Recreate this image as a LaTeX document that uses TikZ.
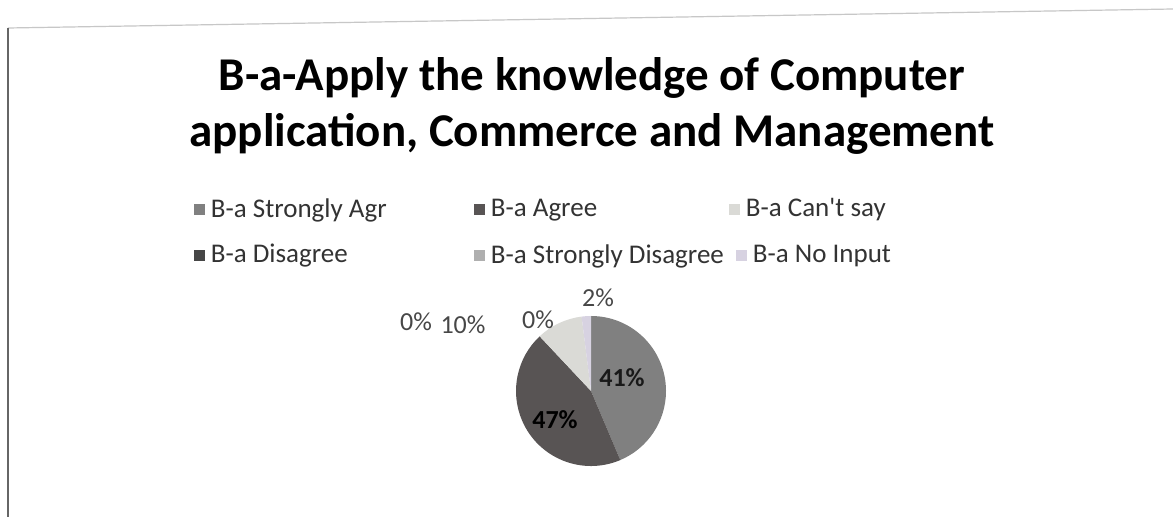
\documentclass[tikz,border=0pt]{standalone}
\usepackage{fontspec}
\setmainfont{Carlito}[Ligatures=TeXOff]
\usetikzlibrary{positioning}

\definecolor{sagrc}{RGB}{128,128,128}
\definecolor{agrc}{RGB}{88,84,84}
\definecolor{cantc}{RGB}{218,218,214}
\definecolor{disc}{RGB}{70,70,70}
\definecolor{sdisc}{RGB}{175,175,175}
\definecolor{noinc}{RGB}{215,210,225}

\tikzset{
  charttitle/.style={font=\fontsize{47}{54}\selectfont\bfseries, text=black, inner sep=0pt},
  lgbox/.style={minimum size=11pt, inner sep=0pt},
  lgtext/.style={font=\fontsize{27}{30}\selectfont, text=black!80, inner sep=0pt, anchor=west},
  pct/.style={font=\fontsize{26}{28}\selectfont, text=black!72, inner sep=0pt},
  pctin/.style={font=\fontsize{26}{28}\selectfont\bfseries, text=black!90, inner sep=0pt}
}

\begin{document}
\begin{tikzpicture}[x=1pt,y=1pt]
        \useasboundingbox (0,0) rectangle (1173,517);
        \fill[white] (0,0) rectangle (1173,517);

        % frame of the chart
        \draw[black!22,line width=1.2pt] (8,489) -- (1173,508);
        \draw[black!60,line width=1.4pt] (8,489) -- (8,0);

        \node[charttitle,anchor=base] (title1) at (592,426) {B-a-Apply the knowledge of Computer};
        \node[charttitle,anchor=base] (title2) at (592,370) {application, Commerce and Management};

        \node[lgbox,fill=sagrc] (m1) at (199,307) {};
        \node[lgtext,right=6pt of m1] (t1) {B-a Strongly Agr};
        \node[lgbox,fill=agrc] (m2) at (479,307) {};
        \node[lgtext,right=6pt of m2] (t2) {B-a Agree};
        \node[lgbox,fill=cantc] (m3) at (734,307) {};
        \node[lgtext,right=6pt of m3] (t3) {B-a Can't say};

        \node[lgbox,fill=disc] (m4) at (199,261) {};
        \node[lgtext,right=6pt of m4] (t4) {B-a Disagree};
        \node[lgbox,fill=sdisc] (m5) at (479,261) {};
        \node[lgtext,right=6pt of m5] (t5) {B-a Strongly Disagree};
        \node[lgbox,fill=noinc] (m6) at (741,261) {};
        \node[lgtext,right=6pt of m6] (t6) {B-a No Input};

        \coordinate (c) at (591,126);
        \fill[sagrc] (c) -- ++(90:75) arc[start angle=90, end angle=-67, radius=75] -- cycle;
        \fill[agrc] (c) -- ++(-67:75) arc[start angle=-67, end angle=-226.8, radius=75] -- cycle;
        \fill[cantc] (c) -- ++(133.2:75) arc[start angle=133.2, end angle=97.2, radius=75] -- cycle;
        \fill[noinc] (c) -- ++(97.2:75) arc[start angle=97.2, end angle=90, radius=75] -- cycle;

        \node[pct] (p1) at (416,195) {0\%};
        \node[pct] (p2) at (463,192) {10\%};
        \node[pct] (p3) at (538,197) {0\%};
        \node[pct] (p4) at (598,219) {2\%};
        \node[pctin] (p5) at (622,139) {41\%};
        \node[pctin,text=black] (p6) at (555,97) {47\%};

    \end{tikzpicture}
\end{document}
